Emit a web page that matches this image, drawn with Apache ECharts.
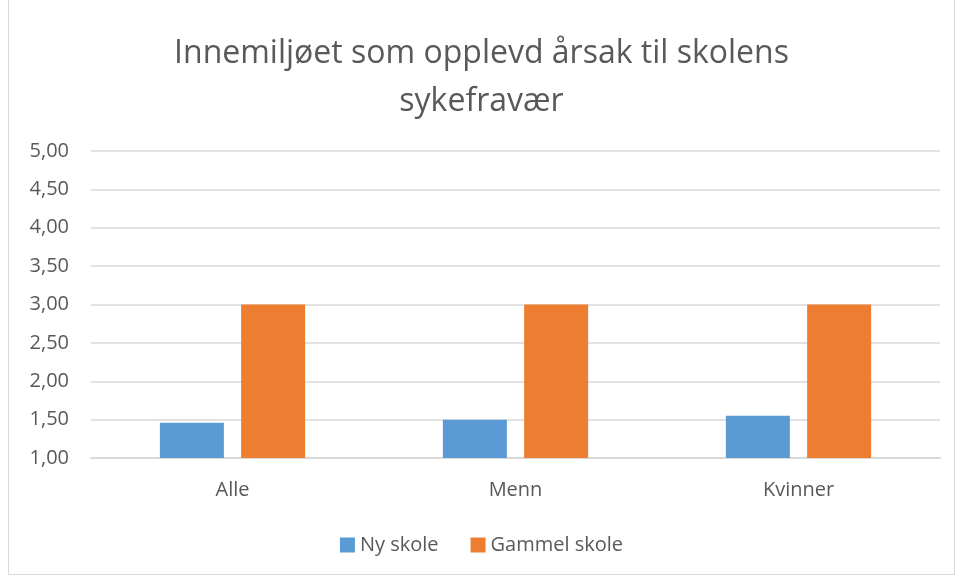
<!DOCTYPE html>
<html>
<head>
<meta charset="utf-8">
<script src="https://cdn.jsdelivr.net/npm/echarts@6/dist/echarts.min.js"></script>
<style>
  html, body { margin: 0; padding: 0; background: #fff; }
  #chart { position: absolute; left: 8px; top: 0; width: 947px; height: 575px; border: 1px solid #d9d9d9; border-top: none; box-sizing: border-box; }
</style>
</head>
<body>
<div id="chart"></div>
<script>
const categories = ['Alle', 'Menn', 'Kvinner']
const nySkole = [1.46, 1.50, 1.55]
const gammelSkole = [3.00, 3.00, 3.00]
const seriesNames = ['Ny skole', 'Gammel skole']

const chart = echarts.init(document.getElementById('chart'))
const font = '"Open Sans", "Liberation Sans", sans-serif'

chart.setOption({
  animation: false,
  textStyle: { fontFamily: font },
  title: {
    text: 'Innemiljøet som opplevd årsak til skolens\nsykefravær',
    left: 'center',
    top: 25,
    textStyle: { fontFamily: font, fontSize: 32, fontWeight: 'normal', color: '#595959', lineHeight: 48 }
  },
  legend: {
    bottom: 14,
    left: 'center',
    itemWidth: 15,
    itemHeight: 15,
    itemGap: 32,
    icon: 'rect',
    textStyle: { fontFamily: font, fontSize: 20, color: '#595959' },
    data: seriesNames
  },
  grid: { left: 82, right: 14, top: 151, bottom: 116, containLabel: false },
  xAxis: {
    type: 'category',
    data: categories,
    axisLine: { lineStyle: { color: '#d9d9d9', width: 2 } },
    axisTick: { show: false },
    axisLabel: { fontFamily: font, fontSize: 20, color: '#595959', margin: 22 }
  },
  yAxis: {
    type: 'value',
    min: 1,
    max: 5,
    interval: 0.5,
    axisLine: { show: false },
    axisTick: { show: false },
    splitLine: { lineStyle: { color: '#d9d9d9', width: 1.5 } },
    axisLabel: {
      fontFamily: font, fontSize: 20, color: '#595959', margin: 22,
      formatter: v => v.toFixed(2).replace('.', ',')
    }
  },
  series: [
    {
      name: seriesNames[0],
      type: 'bar',
      data: nySkole,
      barWidth: 64,
      barGap: '27%',
      itemStyle: { color: '#5b9bd5' }
    },
    {
      name: seriesNames[1],
      type: 'bar',
      data: gammelSkole,
      barWidth: 64,
      itemStyle: { color: '#ed7d31' }
    }
  ]
})
</script>
</body>
</html>
